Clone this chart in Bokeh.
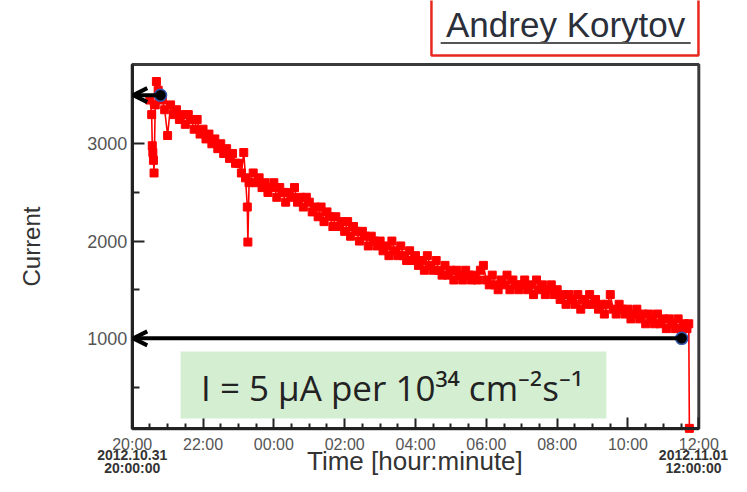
import math
from bokeh.plotting import figure
from bokeh.models import (Range1d, FixedTicker, Label, BoxAnnotation, Arrow, OpenHead,
                          ColumnDataSource, LinearAxis)
from bokeh.embed import file_html
from bokeh.resources import INLINE

# ---------------- data ----------------
# minutes after 2012.10.31 20:00:00 and beam current
minutes = [30, 33, 34, 35, 36, 37, 39, 41, 44, 48, 51, 55,
           60, 65, 70, 75, 80, 85, 90, 95, 100, 105, 110, 115,
           120, 125, 130, 135, 140, 145, 150, 155, 160, 165, 170, 175,
           180, 185, 189, 192, 195, 196, 198, 205, 210, 215, 220, 225, 230, 235,
           240, 245, 250, 255, 260, 265, 270, 275, 280, 285, 290, 295,
           300, 305, 310, 315, 320, 325, 330, 335, 340, 345, 350, 355,
           360, 365, 370, 375, 380, 385, 390, 395, 400, 405, 410, 415,
           420, 425, 430, 435, 440, 445, 450, 455, 460, 465, 470, 475,
           480, 485, 490, 495, 500, 505, 510, 515, 520, 525, 530, 535,
           540, 545, 550, 555, 560, 565, 570, 575, 580, 585, 590, 595,
           600, 605, 610, 615, 620, 625, 630, 635, 640, 645, 650, 655,
           660, 665, 670, 675, 680, 685, 690, 695, 700, 705, 710, 715,
           720, 725, 730, 735, 740, 745, 750, 755, 760, 765, 770, 775,
           780, 785, 790, 795, 800, 805, 810, 815, 820, 825, 830, 835,
           840, 845, 850, 855, 860, 865, 870, 875, 880, 885, 890, 895,
           900, 905, 910, 915, 920, 925, 930, 935, 940, 943, 944]
current = [3450, 3300, 2980, 2910, 2830, 2700, 3400, 3640, 3550, 3500, 3450, 3350,
           3085, 3400, 3300, 3350, 3250, 3300, 3200, 3300, 3250, 3150, 3250, 3100,
           3150, 3050, 3100, 3000, 3050, 2950, 3000, 2900, 2950, 2850, 2900, 2800,
           2800, 2700, 2910, 2650, 2350, 1990, 2600, 2700, 2600, 2650, 2550, 2600, 2500, 2550,
           2600, 2450, 2550, 2500, 2400, 2500, 2450, 2550, 2400, 2450, 2350, 2450,
           2400, 2300, 2350, 2250, 2350, 2200, 2300, 2250, 2150, 2250, 2150, 2200,
           2100, 2200, 2050, 2150, 2100, 2000, 2100, 2050, 1950, 2050, 2000, 1950,
           2000, 1900, 1950, 1850, 2000, 1900, 1850, 1950, 1850, 1800, 1900, 1800,
           1850, 1750, 1800, 1700, 1850, 1750, 1700, 1800, 1700, 1650, 1750, 1650,
           1700, 1600, 1700, 1650, 1600, 1700, 1650, 1600, 1650, 1600, 1700, 1750,
           1600, 1550, 1650, 1550, 1500, 1600, 1550, 1650, 1500, 1600, 1550, 1500,
           1550, 1600, 1500, 1550, 1450, 1600, 1500, 1550, 1450, 1500, 1550, 1450,
           1500, 1400, 1450, 1350, 1450, 1400, 1350, 1450, 1300, 1400, 1350, 1450,
           1350, 1400, 1300, 1350, 1250, 1350, 1450, 1300, 1250, 1350, 1300, 1250,
           1300, 1200, 1250, 1300, 1200, 1250, 1150, 1250, 1200, 1150, 1250, 1150,
           1200, 1100, 1200, 1150, 1100, 1200, 1100, 1150, 1100, 1150, 75]

# reference points (black dots) with arrows to the axis
ref_minutes = [48, 931]
ref_current = [3500, 1000]

x_tick_hours = [0, 2, 4, 6, 8, 10, 12, 14, 16]
x_tick_labels = ["20:00", "22:00", "00:00", "02:00", "04:00", "06:00", "08:00", "10:00", "12:00"]
x_minor_hours = [0.5, 1, 1.5, 2.5, 3, 3.5, 4.5, 5, 5.5, 6.5, 7, 7.5, 8.5, 9, 9.5,
                 10.5, 11, 11.5, 12.5, 13, 13.5, 14.5, 15, 15.5]
y_ticks = [1000, 2000, 3000]
y_minor = [500, 1500, 2500, 3500]
start_stamp = ["2012.10.31", "20:00:00"]
end_stamp = ["2012.11.01", "12:00:00"]

# ---------------- figure ----------------
src = ColumnDataSource(dict(t=[m / 60 for m in minutes], c=current))
ref = ColumnDataSource(dict(t=[m / 60 for m in ref_minutes], c=ref_current))

X0, X1 = 0, 16          # plotted time window (hours after 20:00)
Y0, Y1 = 70, 3815       # plotted current window

p = figure(width=731, height=476, x_range=Range1d(-3.719, 16.923), y_range=Range1d(-420, 4473),
           output_backend="svg", toolbar_location=None,
           x_axis_location=None, y_axis_location=None,
           min_border_left=0, min_border_right=0, min_border_top=0, min_border_bottom=0)
p.title.visible = False
p.background_fill_color = "white"
p.border_fill_color = "white"
p.outline_line_color = None
p.xgrid.visible = False
p.ygrid.visible = False

FONT = "Liberation Sans"
AX = "#222222"

xa = LinearAxis(fixed_location=Y0, bounds=(X0, X1))
xa.ticker = FixedTicker(ticks=x_tick_hours, minor_ticks=x_minor_hours)
xa.major_label_overrides = {h: l for h, l in zip(x_tick_hours, x_tick_labels)}
xa.major_tick_in = 11
xa.major_tick_out = 0
xa.minor_tick_in = 5
xa.minor_tick_out = 0
xa.major_label_standoff = 7
xa.major_label_text_font = FONT
xa.major_label_text_font_size = "16px"
xa.major_label_text_color = "#555555"
xa.axis_line_width = 3
xa.axis_line_color = AX
xa.major_tick_line_width = 2
xa.minor_tick_line_width = 2
xa.major_tick_line_color = AX
xa.minor_tick_line_color = AX
p.add_layout(xa, "below")

ya = LinearAxis(fixed_location=X0, bounds=(Y0, Y1))
ya.ticker = FixedTicker(ticks=y_ticks, minor_ticks=y_minor)
ya.major_tick_in = 12
ya.major_tick_out = 0
ya.minor_tick_in = 7
ya.minor_tick_out = 0
ya.major_label_standoff = 5
ya.major_label_text_font = FONT
ya.major_label_text_font_size = "18px"
ya.major_label_text_color = "#555555"
ya.axis_line_width = 3
ya.axis_line_color = AX
ya.major_tick_line_width = 2
ya.minor_tick_line_width = 2
ya.major_tick_line_color = AX
ya.minor_tick_line_color = AX
p.add_layout(ya, "left")

# plot box (top / right edges)
p.add_layout(BoxAnnotation(left=X0, right=X1, bottom=Y0, top=Y1, fill_alpha=0,
                           line_color="#3a3a3a", line_alpha=1.0, line_width=3, level="underlay"))

# red data
p.line("t", "c", source=src, line_color="#ff0000", line_width=1.6)
p.scatter("t", "c", source=src, marker="square", size=8, fill_color="#ff0000", line_color="#ff0000")

# green formula box
p.add_layout(BoxAnnotation(left=1.364, right=13.39, bottom=176, top=865,
                           fill_color="#d4eed2", fill_alpha=1.0, line_alpha=0))
p.add_layout(Label(x=7.337, y=495, text="I = 5 \u03bcA per 10\u00b3\u2074 cm\u207b\u00b2s\u207b\u00b9",
                   text_align="center", text_baseline="middle",
                   text_font="Open Sans", text_font_size="35px", text_color="#222222"))

# arrows from reference points to the axis
for t_m, c in zip(ref_minutes, ref_current):
    p.add_layout(Arrow(x_start=t_m / 60, y_start=c, x_end=0.03, y_end=c,
                       line_color="black", line_width=4,
                       end=OpenHead(size=14, line_width=4, line_color="black")))
p.scatter("t", "c", source=ref, marker="circle", size=12, fill_color="black",
          line_color="#3355aa", line_width=1.5)

# title box
p.add_layout(BoxAnnotation(left=8.45, right=15.99, bottom=3907, top=4600,
                           fill_alpha=0, line_color="#e8281e", line_alpha=1.0, line_width=2.5))
p.add_layout(Label(x=12.24, y=4225, text="Andrey Korytov", text_align="center",
                   text_baseline="middle", text_font=FONT, text_font_size="35px",
                   text_color="#2b2f3a"))
p.add_layout(BoxAnnotation(left=8.71, right=15.77, bottom=4027, top=4047,
                           fill_color="#555555", fill_alpha=1.0, line_alpha=0))

# axis titles and time stamps
p.add_layout(Label(x=-2.844, y=1944, text="Current", angle=math.pi / 2, text_align="center",
                   text_baseline="middle", text_font=FONT, text_font_size="24px",
                   text_color="#333333"))
p.add_layout(Label(x=8.085, y=-256, text="Time  [hour:minute]", text_align="center",
                   text_baseline="middle", text_font=FONT, text_font_size="26px",
                   text_color="#333333"))
for xh, stamp in ((X0, start_stamp), (X1 - 0.15, end_stamp)):
    p.add_layout(Label(x=xh, y=-204, text=stamp[0], text_align="center", text_baseline="middle",
                       text_font=FONT, text_font_size="14px", text_font_style="bold",
                       text_color="#333333"))
    p.add_layout(Label(x=xh, y=-328, text=stamp[1], text_align="center", text_baseline="middle",
                       text_font=FONT, text_font_size="14px", text_font_style="bold",
                       text_color="#333333"))

open("out.html", "w").write(file_html(p, INLINE))
